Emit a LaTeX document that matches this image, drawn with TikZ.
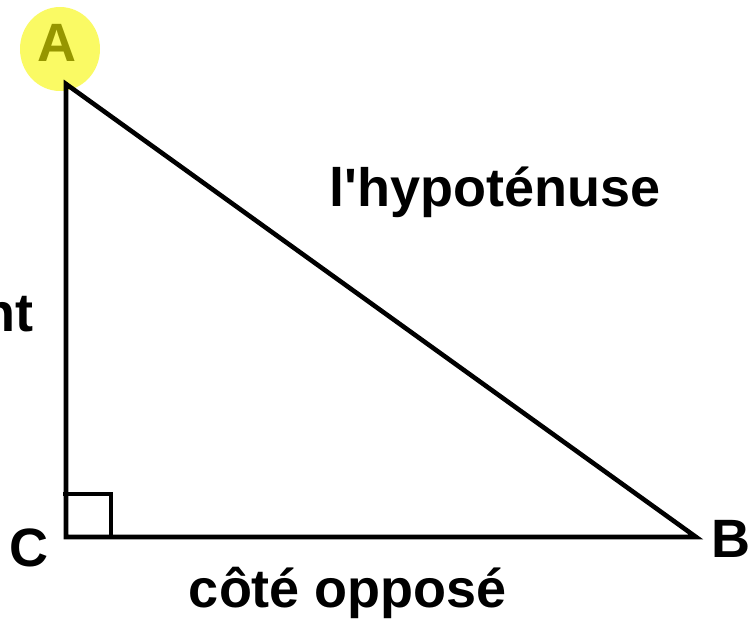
\documentclass[tikz,border=0pt]{standalone}
\usepackage{fontspec}
\setmainfont{Liberation Sans}[Ligatures=TeXOff]
\definecolor{hl}{RGB}{250,250,100}
\definecolor{hltext}{RGB}{150,150,0}
\tikzset{
  lbl/.style={font=\fontsize{54}{60}\selectfont\bfseries, inner sep=0pt, anchor=base},
  edge/.style={line width=4.6pt, line join=miter, black}
}
\begin{document}
\begin{tikzpicture}[x=1pt,y=-1pt]
\useasboundingbox (0,0) rectangle (750,623);
\fill[hl] (60,49) ellipse [x radius=40, y radius=42];
\coordinate (A) at (66,84);
\coordinate (C) at (66,537);
\coordinate (B) at (696,537);
\draw[edge] (A) -- (C) -- (B) -- cycle;
\coordinate (s1) at (63,494);
\coordinate (s2) at (111,494);
\coordinate (s3) at (111,537);
\draw[line width=3.5pt] (s1) -- (s2) -- (s3);
\node[lbl, text=hltext] (lA) at (57,62) {A};
\node[lbl] (lC) at (29,566) {C};
\node[lbl] (lB) at (731,557) {B};
\node[lbl] (hyp) at (495,206) {l'hypoténuse};
\node[lbl] (opp) at (348,607) {côté opposé};
\node[lbl, anchor=base east] (adj) at (34,331) {nt};
\end{tikzpicture}
\end{document}
